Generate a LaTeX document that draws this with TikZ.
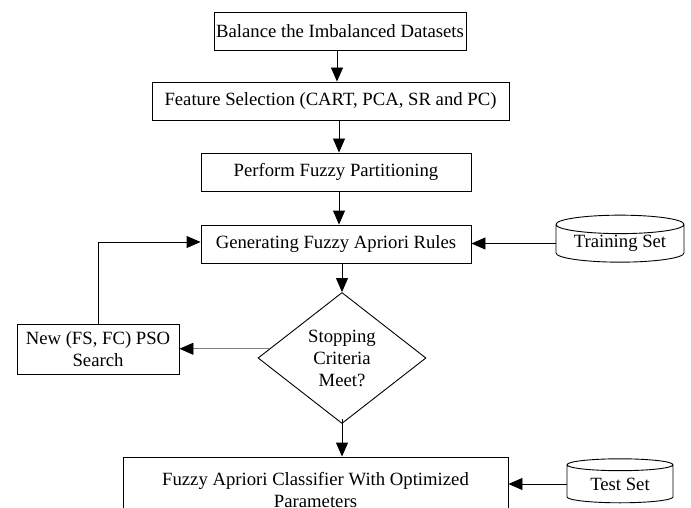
\documentclass[tikz,border=0pt]{standalone}
\usepackage{fontspec}
\setmainfont{Liberation Serif}
\usetikzlibrary{shapes.geometric,arrows.meta,calc}
\begin{document}
\begin{tikzpicture}[x=1pt,y=-1pt,line width=.9pt,
  font=\fontsize{18.7}{22}\selectfont,
  box/.style={draw,rectangle,inner sep=0pt,align=center},
  dbase/.style={draw,cylinder,shape border rotate=90,aspect=0.2,
    inner sep=0pt,minimum width=128pt,minimum height=47pt},
  tip/.style={-{Triangle[length=14pt,width=12pt,color=black]}}]
\clip (0,0) rectangle (691,508);
\node[box,minimum width=252pt,minimum height=38pt] (bal) at (340,31)
  {Balance the Imbalanced Datasets};
\node[box,minimum width=357pt,minimum height=38pt] (feat) at (330.5,101)
  {Feature Selection (CART, PCA, SR and PC)};
\node[box,minimum width=270pt,minimum height=38pt] (part) at (336,172)
  {Perform Fuzzy Partitioning};
\node[box,minimum width=270pt,minimum height=38pt] (gen) at (336,244)
  {Generating Fuzzy Apriori Rules};
\node[draw,diamond,aspect=1.28,inner sep=0pt,minimum width=168pt,
  minimum height=131pt,align=center] (stop) at (342,358)
  {Stopping\\Criteria\\Meet?};
\node[box,minimum width=162pt,minimum height=50pt] (pso) at (98,349)
  {New (FS, FC) PSO\\Search};
\node[box,minimum width=385pt,minimum height=66pt] (fac) at (315.5,490)
  {Fuzzy Apriori Classifier With Optimized\\Parameters};
\node[dbase] (train) at (620,243.5) {Training Set};
\node[dbase,minimum width=106pt,minimum height=44pt] (test) at (620,484)
  {Test Set};
% main flow
\draw[tip] ([xshift=-3pt]bal.south) -- ([xshift=-3pt]bal.south |- feat.north);
\draw[tip] ([xshift=3pt]part.north |- feat.south) -- ([xshift=3pt]part.north);
\draw[tip] ([xshift=3pt]part.south) -- ([xshift=3pt]part.south |- gen.north);
\draw[tip] (gen.south -| stop.north) -- (stop.north);
\draw[tip] ([yshift=5pt]stop.south) -- (stop.south |- fac.north);
% loop back
\coordinate (no) at ($(stop.west)!0.14!(stop.north)$);
\draw[tip,gray] (no) -- (no -| pso.east);
\draw[tip] (pso.north) |- ([yshift=2pt]gen.west);
% data sets
\draw[tip] (train.west) -- (train.west -| gen.east);
\draw[tip] (test.west) -- (test.west -| fac.east);
\end{tikzpicture}
\end{document}
